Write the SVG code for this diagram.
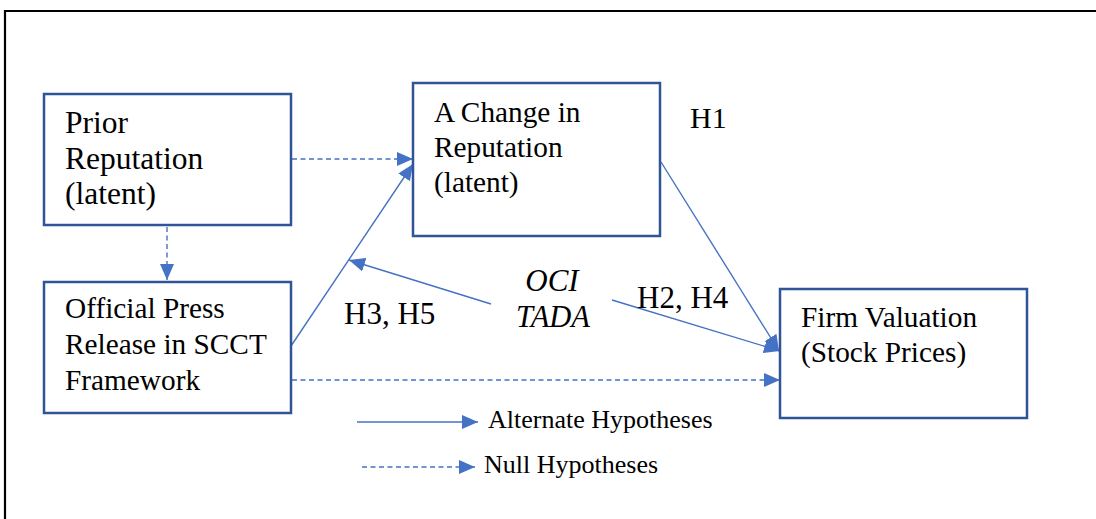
<svg xmlns="http://www.w3.org/2000/svg" width="1096" height="519" viewBox="0 0 1096 519">
<defs>
<style>
.box{fill:#fff;stroke:#2F5597;stroke-width:2.5}
.t{font-family:"Liberation Serif","Times New Roman",serif;fill:#000}
.c{fill:none;stroke:#4472C4;stroke-width:1.4}
.d{stroke-dasharray:5 3.5}
</style>
<marker id="ah" markerUnits="userSpaceOnUse" markerWidth="16" markerHeight="14" refX="16" refY="7" orient="auto">
<path d="M0,0 L16,7 L0,14 z" fill="#4472C4"/>
</marker>
</defs>
<rect width="1096" height="519" fill="#fff"/>
<path d="M5,519 V11 H1096" fill="none" stroke="#000" stroke-width="2.2"/>
<g id="connectors">
<line class="c d" x1="292" y1="159" x2="413" y2="159" marker-end="url(#ah)"/>
<line class="c d" x1="167" y1="227" x2="167" y2="280" marker-end="url(#ah)"/>
<line class="c" x1="291" y1="346" x2="413" y2="164" marker-end="url(#ah)"/>
<line class="c" x1="661" y1="162" x2="779" y2="351" marker-end="url(#ah)"/>
<line class="c" x1="491" y1="304" x2="349" y2="260" marker-end="url(#ah)"/>
<line class="c" x1="612" y1="300" x2="780" y2="351" marker-end="url(#ah)"/>
<line class="c d" x1="292" y1="380" x2="780" y2="380" marker-end="url(#ah)"/>
<line class="c" x1="357" y1="422" x2="478" y2="422" marker-end="url(#ah)"/>
<line class="c d" x1="362" y1="467" x2="475" y2="467" marker-end="url(#ah)"/>
</g>
<g id="prior">
<rect class="box" x="44" y="94" width="247" height="131"/>
<text class="t" font-size="31.5" x="65" y="133">Prior</text>
<text class="t" font-size="31.5" x="65" y="169">Reputation</text>
<text class="t" font-size="31.5" x="65" y="204">(latent)</text>
</g>
<g id="change">
<rect class="box" x="413" y="83" width="247" height="153"/>
<text class="t" font-size="29.3" x="434" y="122">A Change in</text>
<text class="t" font-size="29.3" x="434" y="157">Reputation</text>
<text class="t" font-size="29.3" x="434" y="192">(latent)</text>
</g>
<g id="press">
<rect class="box" x="44" y="282" width="247" height="131"/>
<text class="t" font-size="29.3" x="65" y="318">Official Press</text>
<text class="t" font-size="29.3" x="65" y="354">Release in SCCT</text>
<text class="t" font-size="29.3" x="65" y="390">Framework</text>
</g>
<g id="firm">
<rect class="box" x="780" y="289" width="247" height="129"/>
<text class="t" font-size="29.3" x="801" y="327">Firm Valuation</text>
<text class="t" font-size="29.3" x="801" y="362">(Stock Prices)</text>
</g>
<g id="labels">
<text class="t" font-size="30" x="690" y="128">H1</text>
<text class="t" font-size="31" x="344" y="324">H3, H5</text>
<text class="t" font-size="31" x="637" y="308">H2, H4</text>
<text class="t" font-size="31" font-style="italic" x="552" y="291" text-anchor="middle">OCI</text>
<text class="t" font-size="30.5" font-style="italic" x="553" y="327" text-anchor="middle">TADA</text>
</g>
<g id="legend">
<text class="t" font-size="26" x="488" y="428">Alternate Hypotheses</text>
<text class="t" font-size="26" x="484" y="473">Null Hypotheses</text>
</g>
</svg>
